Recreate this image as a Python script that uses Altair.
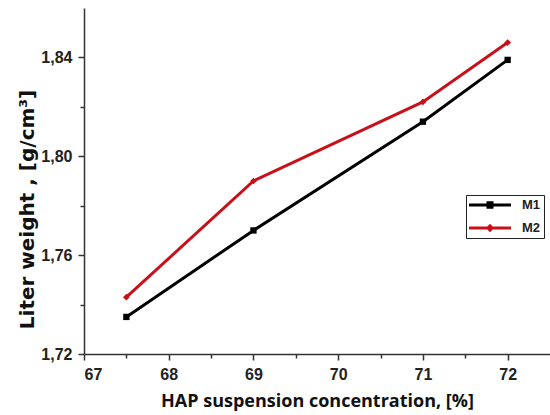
import altair as alt
import pandas as pd

concentration = [67.5, 69, 71, 72]
m1_values = [1.735, 1.770, 1.814, 1.839]
m2_values = [1.743, 1.790, 1.822, 1.846]
series_names = ["M1", "M2"]
series_colors = ["#000000", "#c8101a"]

x_ticks = [67, 67.5, 68, 68.5, 69, 69.5, 70, 70.5, 71, 71.5, 72]
y_ticks = [1.72, 1.74, 1.76, 1.78, 1.80, 1.82, 1.84]

rows = []
for name, vals in zip(series_names, [m1_values, m2_values]):
    for c, v in zip(concentration, vals):
        rows.append({"conc": c, "weight": v, "series": name})
df = pd.DataFrame(rows)

# legend symbol: line with marker (unit = sqrt(size)/2 px)
path_m1 = "M-1,-0.21H5V0.21H-1Z M1.5,-0.55H2.5V0.55H1.5Z"
path_m2 = "M-1,-0.21H5V0.21H-1Z M2,-0.6L2.6,0L2,0.6L1.4,0Z"

x_enc = alt.X(
    "conc:Q",
    scale=alt.Scale(domain=[67, 72.5], nice=False, zero=False),
    axis=alt.Axis(
        title="HAP suspension concentration, [%]",
        values=x_ticks,
        labelExpr="datum.value % 1 == 0 ? format(datum.value, 'd') : ''",
        tickSize={"condition": {"test": "datum.value % 1 == 0", "value": 6}, "value": 4},
        labelPadding=6,
        titleY=38,
        titleFont="Open Sans",
        titleFontSize=18,
        titleFontWeight="bold",
    ),
)
y_enc = alt.Y(
    "weight:Q",
    scale=alt.Scale(domain=[1.72, 1.86], nice=False, zero=False),
    axis=alt.Axis(
        title="Liter weight , [g/cm³]",
        values=y_ticks,
        labelExpr="round(datum.value*100) % 4 == 0 ? replace(format(datum.value, '.2f'), '.', ',') : ''",
        tickSize={"condition": {"test": "round(datum.value*100) % 4 == 0", "value": 6}, "value": 4},
        labelPadding=6,
        titleX=-57,
        titleY=201,
        titleAngle=-90,
        titleAlign="center",
        titleBaseline="middle",
        titleFont="DejaVu Sans",
        titleFontSize=20,
        titleFontWeight="bold",
    ),
)
color_scale = alt.Scale(domain=series_names, range=series_colors)

legend_props = dict(
    title=None,
    orient="none",
    legendX=382,
    legendY=187,
    strokeColor="#222222",
    padding=3,
    rowPadding=9,
    symbolSize=196,
    symbolStrokeWidth=0,
    symbolOpacity=1,
    labelOffset=39,
    labelFont="Liberation Sans",
    labelFontSize=13,
    labelFontWeight="bold",
    labelColor="#222222",
    fillColor="white",
)


def color_enc():
    return alt.Color("series:N", scale=color_scale, legend=alt.Legend(**legend_props))


lines = alt.Chart(df).mark_line(strokeWidth=3).encode(x=x_enc, y=y_enc, color=color_enc())

points_m1 = (
    alt.Chart(df)
    .transform_filter(alt.datum.series == series_names[0])
    .mark_point(filled=True, size=40, opacity=1, shape="square")
    .encode(x="conc:Q", y="weight:Q", color=color_enc())
)
points_m2 = (
    alt.Chart(df)
    .transform_filter(alt.datum.series == series_names[1])
    .mark_point(filled=True, size=45, opacity=1, shape="diamond")
    .encode(x="conc:Q", y="weight:Q", color=color_enc())
)

legend_layer = alt.Chart(df).transform_filter("false").mark_point(filled=True, opacity=1).encode(
    x="conc:Q",
    y="weight:Q",
    color=color_enc(),
    shape=alt.Shape(
        "series:N",
        scale=alt.Scale(domain=series_names, range=[path_m1, path_m2]),
        legend=alt.Legend(**legend_props),
    ),
)

chart = (
    alt.layer(lines, points_m1, points_m2, legend_layer)
    .properties(
        width=466,
        height=346,
        padding={"left": 84, "top": 8, "right": 0, "bottom": 61},
        autosize=alt.AutoSizeParams(type="none"),
        background="white",
    )
    .configure_view(stroke=None)
    .configure_axis(
        grid=False,
        domainColor="#333333",
        domainWidth=1.5,
        tickColor="#333333",
        tickWidth=1.5,
        labelFont="Liberation Sans",
        labelFontSize=16,
        labelFontWeight="bold",
        labelColor="#222222",
        titleColor="#111111",
    )
)

chart.save("out.html", embed_options={"renderer": "svg", "actions": False})
